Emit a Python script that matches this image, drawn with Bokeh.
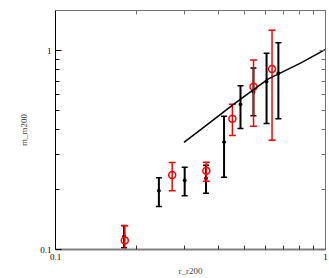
from bokeh.plotting import figure
from bokeh.models import LogAxis, FixedTicker, CustomJSTickFormatter, Range1d, LogScale
from bokeh.embed import file_html
from bokeh.resources import INLINE

# data
black_x = [0.1795, 0.2415, 0.3009, 0.361, 0.421, 0.4843, 0.541, 0.605, 0.669]
black_y = [0.1165, 0.1976, 0.2226, 0.2279, 0.3469, 0.5366, 0.62, 0.699, 0.7696]
black_lo = [0.102, 0.1644, 0.1865, 0.1917, 0.2305, 0.4059, 0.47, 0.43, 0.4538]
black_hi = [0.1322, 0.2294, 0.2594, 0.2654, 0.4676, 0.6652, 0.818, 0.9685, 1.094]

red_x = [0.1806, 0.2705, 0.362, 0.452, 0.5413, 0.6339]
red_y = [0.1109, 0.2366, 0.2486, 0.4538, 0.6577, 0.8085]
red_lo = [0.09, 0.1976, 0.2201, 0.3746, 0.4168, 0.3538]
red_hi = [0.1318, 0.2738, 0.2748, 0.5366, 0.8966, 1.265]

model_x = [0.299, 0.346, 0.46, 0.6124, 0.8144, 1.0]
model_y = [0.3458, 0.4013, 0.5409, 0.7183, 0.8695, 1.014]

major_ticks = [0.1, 1]
minor_ticks = [0.2, 0.3, 0.4, 0.5, 0.6, 0.7, 0.8, 0.9]

FONT = "Liberation Serif"

p = figure(width=329, height=278, x_axis_type=None, y_axis_type=None,
           x_range=Range1d(0.1, 1.0), y_range=Range1d(0.1, 1.59),
           output_backend="svg", toolbar_location=None,
           min_border_left=55, min_border_right=4, min_border_top=10, min_border_bottom=27)
p.x_scale = LogScale()
p.y_scale = LogScale()
p.xgrid.visible = False
p.ygrid.visible = False
p.outline_line_color = None
p.background_fill_color = "white"
p.border_fill_color = "white"

fmt = CustomJSTickFormatter(code="return tick.toString();")
blank = CustomJSTickFormatter(code="return '';")

def mk_axis(color, lw, labels):
    ax = LogAxis(ticker=FixedTicker(ticks=major_ticks, minor_ticks=minor_ticks),
                 formatter=fmt if labels else blank)
    ax.axis_line_color = color
    ax.axis_line_width = lw
    ax.major_tick_line_color = color
    ax.minor_tick_line_color = color
    ax.major_tick_in = 6
    ax.major_tick_out = 0
    ax.minor_tick_in = 4
    ax.minor_tick_out = 0
    ax.major_label_text_font = FONT
    ax.major_label_text_color = "black"
    if labels:
        ax.major_label_text_font_size = "9px"
        ax.major_label_standoff = 4
    else:
        ax.major_label_text_font_size = "0px"
        ax.major_label_standoff = 0
    return ax

left = mk_axis("black", 1, True)
left.axis_label = "m_m200"
left.axis_label_text_font = FONT
left.axis_label_text_font_size = "9px"
left.axis_label_text_font_style = "normal"
left.axis_label_standoff = 8
bottom = mk_axis("#808080", 2, True)
bottom.major_tick_line_color = "#333333"
bottom.minor_tick_line_color = "#333333"
bottom.axis_label = "r_r200"
bottom.axis_label_text_font = FONT
bottom.axis_label_text_font_size = "9px"
bottom.axis_label_text_font_style = "normal"
bottom.axis_label_standoff = 3
top = mk_axis("#707070", 1, False)
right = mk_axis("#707070", 1, False)
p.add_layout(left, "left")
p.add_layout(bottom, "below")
p.add_layout(top, "above")
p.add_layout(right, "right")

# black error bars
p.segment(black_x, black_lo, black_x, black_hi, line_color="black", line_width=2)
p.dash(black_x, black_lo, size=6, line_color="black", line_width=1.5)
p.dash(black_x, black_hi, size=6, line_color="black", line_width=1.5)
p.scatter(black_x, black_y, size=3, color="black")

# red error bars
p.segment(red_x, red_lo, red_x, red_hi, line_color="red", line_width=1.5)
p.dash(red_x, red_lo, size=7, line_color="red", line_width=1.5)
p.dash(red_x, red_hi, size=7, line_color="red", line_width=1.5)
p.scatter(red_x, red_y, size=7, marker="circle", fill_color=None,
          line_color="red", line_width=1.5)

# model line
p.line(model_x, model_y, line_color="black", line_width=1.5)

open("out.html", "w").write(file_html(p, INLINE))
